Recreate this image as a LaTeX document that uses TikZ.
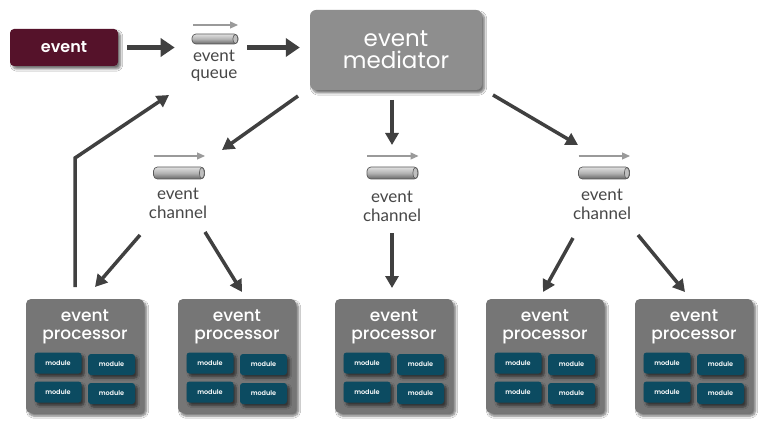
\documentclass[tikz,border=0pt]{standalone}
\usepackage{fontspec}
\setmainfont{Poppins}
\newfontfamily\labfont{Lato}
\newfontfamily\medfont{Poppins}[UprightFont=* Medium]
\newfontfamily\semifont{Poppins}[UprightFont=* SemiBold]
\usetikzlibrary{arrows.meta,shadows.blur,calc}
\definecolor{evmaroon}{HTML}{55122A}
\definecolor{medgray}{HTML}{8E8E8E}
\definecolor{procgray}{HTML}{767676}
\definecolor{modteal}{HTML}{0C4B61}
\definecolor{arrowgray}{HTML}{404040}
\definecolor{labgray}{HTML}{474747}
\definecolor{flowgray}{HTML}{9A9A9A}
\tikzset{
  softshadow/.style={blur shadow={shadow xshift=2.5pt, shadow yshift=-3pt, shadow blur steps=6, shadow opacity=55}},
  evbox/.style={fill=evmaroon, rounded corners=4pt, minimum width=108pt, minimum height=37pt, text=white, font=\semifont\fontsize{16}{16}\selectfont, softshadow, inner sep=0pt},
  medbox/.style={fill=medgray, rounded corners=6pt, minimum width=172pt, minimum height=80pt, text=white, font=\fontsize{23}{23}\selectfont, align=center, softshadow, inner sep=0pt},
  procbox/.style={fill=procgray, rounded corners=5pt, minimum width=118pt, minimum height=114pt, softshadow, inner sep=0pt},
  proclabel/.style={text=white, font=\medfont\fontsize{17}{17.5}\selectfont, align=center, inner sep=0pt},
  modbox/.style={fill=modteal, rounded corners=3pt, minimum width=47pt, minimum height=21pt, text=white, font=\semifont\fontsize{6.5}{7}\selectfont, softshadow, inner sep=0pt},
  pipebody/.style={draw=black!65, line width=0.7pt, rounded corners=4pt, top color=black!12, bottom color=black!60, middle color=black!30, minimum height=11pt, inner sep=0pt},
  flowarrow/.style={draw=flowgray, line width=1.2pt, -{Triangle[length=8pt,width=7pt]}},
  chlabel/.style={text=labgray, font=\labfont\fontsize{17}{19}\selectfont, align=center, inner sep=0pt},
  bigarrow/.style={draw=arrowgray, line width=5pt, -{Triangle[length=14pt,width=18pt]}},
  arr/.style={draw=arrowgray, line width=3.5pt, -{Triangle[length=12pt,width=13pt]}},
}
\begin{document}
\begin{tikzpicture}[x=1pt,y=-1pt]
\useasboundingbox (0,0) rectangle (775,438);
\fill[white] (0,0) rectangle (775,438);

% event
\node[evbox] (event) at (64,47.5) {event};

% queue
\node[pipebody, minimum width=46pt, minimum height=10pt] (qpipe) at (215,39) {};
\fill[black!25, draw=black!65, line width=0.6pt] ([xshift=-3pt]qpipe.east) ellipse (2.5 and 4.5);
\coordinate (qfa) at (193,25);
\coordinate (qfb) at (238,25);
\draw[flowarrow] (qfa) -- (qfb);
\node[chlabel, font=\labfont\fontsize{17}{17}\selectfont] (qlabel) at (214,66) {event\\queue};

% mediator
\node[medbox] (mediator) at (396,50) {event\\[-1pt]mediator};

% arrows top
\draw[bigarrow, shorten <=9pt, shorten >=17pt] (event.east) -- (event.east -| qpipe.west);
\draw[bigarrow, shorten <=9pt, shorten >=10pt] (event.east -| qpipe.east) -- (event.east -| mediator.west);

% channels
\foreach \n/\cx/\lx/\ly in {1/179/178/203.5, 2/392.5/392/206, 3/604/602/204}{
  \node[pipebody, minimum width=51pt, minimum height=12pt] (c\n) at (\cx,173) {};
  \fill[black!25, draw=black!65, line width=0.6pt] ([xshift=-3pt]c\n.east) ellipse (2.5 and 5.5);
  \coordinate (cfa\n) at (\cx-25.5,156);
  \coordinate (cfb\n) at (\cx+26,156);
  \draw[flowarrow] (cfa\n) -- (cfb\n);
  \node[chlabel] (cl\n) at (\lx,\ly) {event\\channel};
}

% processors
\foreach \n/\px in {1/85,2/237,3/394,4/545,5/694}{
  \node[procbox] (p\n) at (\px,356) {};
  \node[proclabel] (pl\n) at (\px,327) {event\\processor};
  \node[modbox] (m\n a) at (\px-27,363) {module};
  \node[modbox] (m\n b) at (\px+26.5,364.5) {module};
  \node[modbox] (m\n c) at (\px-27,392) {module};
  \node[modbox] (m\n d) at (\px+26.5,393.5) {module};
}

% mediator to channels
\coordinate (ms1) at (298,96);  \coordinate (me1) at (222,150);
\coordinate (ms2) at (392,100); \coordinate (me2) at (392,145);
\coordinate (ms3) at (493,95);  \coordinate (me3) at (578,145);
\draw[arr] (ms1) -- (me1);
\draw[arr] (ms2) -- (me2);
\draw[arr] (ms3) -- (me3);

% channels to processors
\coordinate (a1s) at (140,235); \coordinate (a1e) at (95,287);
\coordinate (a2s) at (205,232); \coordinate (a2e) at (242,292);
\coordinate (a3s) at (392,233); \coordinate (a3e) at (392,288);
\coordinate (a4s) at (573,238); \coordinate (a4e) at (543,292);
\coordinate (a5s) at (638,235); \coordinate (a5e) at (685,292);
\draw[arr] (a1s) -- (a1e);
\draw[arr] (a2s) -- (a2e);
\draw[arr] (a3s) -- (a3e);
\draw[arr] (a4s) -- (a4e);
\draw[arr] (a5s) -- (a5e);

% feedback
\coordinate (fb0) at (75,287);
\coordinate (fb1) at (75,158);
\coordinate (fb2) at (169,95);
\draw[arr, line join=miter] (fb0) -- (fb1) -- (fb2);
\end{tikzpicture}
\end{document}
